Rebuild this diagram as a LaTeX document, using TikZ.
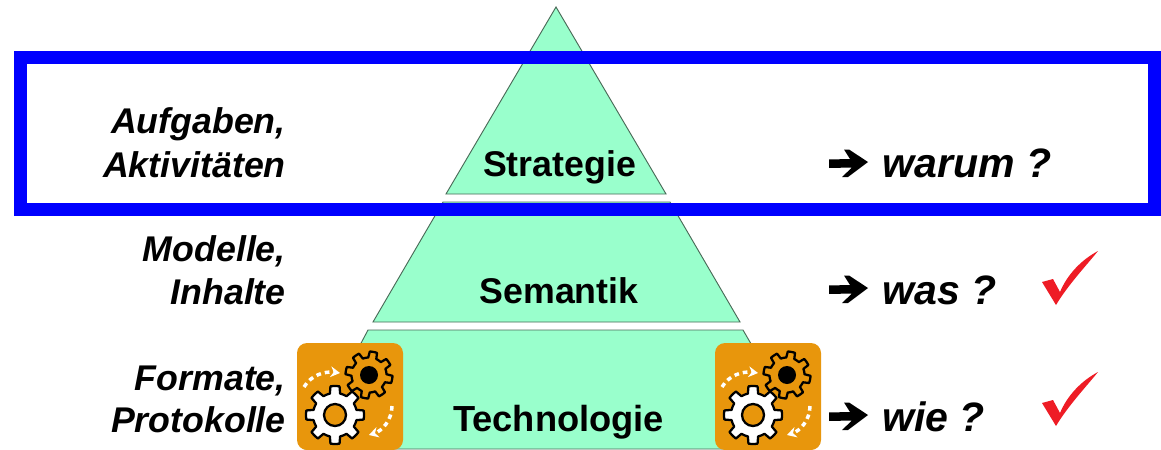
\documentclass[tikz,border=0pt]{standalone}
\usepackage{fontspec}
\setmainfont{Liberation Sans}
\definecolor{mint}{HTML}{99FFCC}
\definecolor{edgegreen}{HTML}{4A6B58}
\definecolor{gearorange}{HTML}{E8960C}
\definecolor{frameblue}{HTML}{0000FF}
\definecolor{checkred}{HTML}{EE1C25}
\usetikzlibrary{arrows.meta}
\tikzset{
  x=0.75pt,y=-0.75pt,
  layerbox/.style={fill=mint,draw=edgegreen,line width=0.7pt},
  orangebox/.style={fill=gearorange,rounded corners=7.5pt,draw=none},
  blueframe/.style={draw=frameblue,line width=9.75pt},
  leftlabel/.style={anchor=base east,inner sep=0pt,font=\fontsize{26.8pt}{30pt}\selectfont\bfseries\itshape},
  midlabel/.style={anchor=base,inner sep=0pt,font=\fontsize{26.8pt}{30pt}\selectfont\bfseries},
  quest/.style={anchor=base west,inner sep=0pt,font=\fontsize{30.8pt}{34pt}\selectfont\bfseries\itshape},
  cyclearrow/.style={draw=white,line width=2.6pt,dash pattern=on 3.5pt off 3pt,-{Stealth[length=7pt,width=8pt]}},
  tooth/.style={line width=1.7pt,draw=black,line join=round},
  pics/gear/.style args={#1/#2/#3/#4}{code={
    \draw[tooth,fill=#3]
      plot[samples at={0,1,...,79},variable=\t]
      ({(mod(\t,10)<=2||mod(\t,10)>=8 ? #1 : #2)*cos((\t*4.5)+#4)},
       {(mod(\t,10)<=2||mod(\t,10)>=8 ? #1 : #2)*sin((\t*4.5)+#4)}) -- cycle;
  }},
  pics/boldarrow/.style={code={
    \fill[black] (0,-3.5) -- (21,-4) -- (15,-13.5) -- (20,-13.5) -- (39,-1) -- (19,14) -- (13,14) -- (23,4.5) -- (0,5) -- cycle;
  }},
}
\begin{document}
\begin{tikzpicture}
\useasboundingbox (0,0) rectangle (1161,450);
\fill[white] (0,0) rectangle (1161,450);
% pyramid
\filldraw[layerbox] (556,7) -- (666,194) -- (446,194) -- cycle;
\filldraw[layerbox] (443,202) -- (670,202) -- (740,322) -- (373,322) -- cycle;
\filldraw[layerbox] (368,330) -- (743,330) -- (812,449) -- (305,449) -- cycle;
% gear boxes
\foreach \dx in {0,418}{
\begin{scope}[xshift=\dx*0.75pt]
  \fill[orangebox] (297,343) rectangle (403,450);
  \pic at (369,375) {gear={23.5/17.5/gearorange/11}};
  \fill[black] (369,375) circle[radius=9];
  \pic at (335,415) {gear={29/22/white/0}};
  \draw[line width=1.7pt,fill=gearorange] (335,415) circle[radius=11];
  \draw[cyclearrow] (304,387) .. controls (311,375) and (325,371) .. (340,373);
  \draw[cyclearrow] (392,406) .. controls (392,420) and (382,431) .. (369,435);
\end{scope}}
% blue frame
\draw[blueframe] (20.5,57.5) rectangle (1154,209.5);
% centre labels
\node[midlabel] (strategie) at (559.5,176) {Strategie};
\node[midlabel] (semantik) at (559,303) {Semantik};
\node[midlabel,font=\fontsize{27.2pt}{32pt}\selectfont\bfseries] (technologie) at (558.5,431) {Technologie};
% left labels
\node[leftlabel] (l1) at (286,133) {Aufgaben,};
\node[leftlabel] (l2) at (286,177) {Aktivitäten};
\node[leftlabel] (l3) at (286,261) {Modelle,};
\node[leftlabel] (l4) at (286,304) {Inhalte};
\node[leftlabel] (l5) at (286,390) {Formate,};
\node[leftlabel] (l6) at (286,432) {Protokolle};
% right labels
\pic at (829,163) {boldarrow};
\pic at (829,289) {boldarrow};
\pic at (829,416) {boldarrow};
\node[quest] (q1) at (882,177) {warum ?};
\node[quest] (q2) at (882,304) {was ?};
\node[quest] (q3) at (882,431) {wie ?};
% check marks
\foreach \dy in {0,121}{
\fill[checkred,yshift=-\dy*0.75pt] (1042,282) -- (1053,279) -- (1060,292)
  .. controls (1067,275) and (1081,260) .. (1098,251)
  .. controls (1085,267) and (1068,285) .. (1056,305) -- cycle;
}
\end{tikzpicture}
\end{document}
